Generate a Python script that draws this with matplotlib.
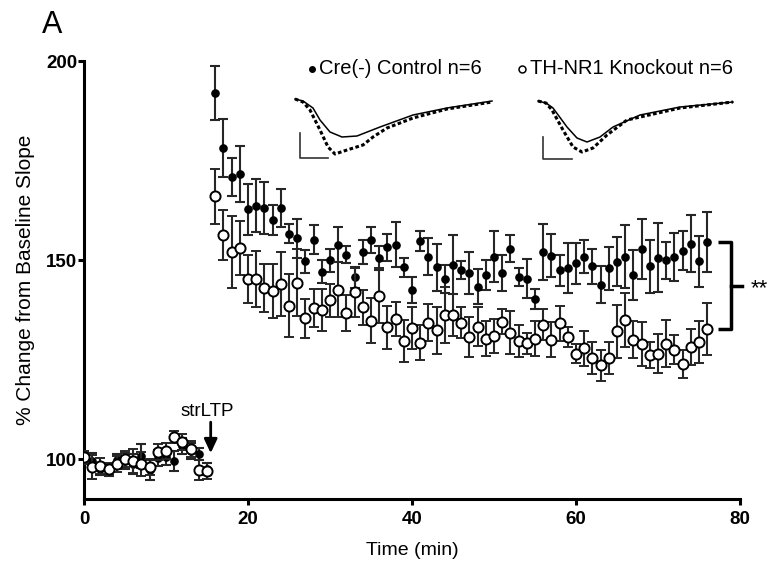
import matplotlib
matplotlib.use("Agg")
import matplotlib.pyplot as plt
import numpy as np

plt.rcParams['font.family'] = ['Liberation Sans', 'DejaVu Sans']

# baseline, one point per minute
base_time = np.arange(0, 16)
ctrl_base = [100.4, 99.6, 97.5, 97.2, 99.7, 99.6, 98.9, 100.8, 97.2, 100.4,
             100.6, 99.6, 103.4, 102.1, 101.4, 97.5]
ctrl_base_err = [1.5, 2.0, 1.5, 1.5, 1.5, 2.0, 2.5, 3.0, 2.5, 2.0,
                 2.0, 2.5, 2.0, 2.0, 1.5, 1.5]
ko_base = [100.6, 98.1, 98.3, 97.5, 98.9, 100.0, 99.6, 98.7, 98.1, 101.7,
           102.1, 105.5, 104.2, 102.5, 97.2, 97.0]
ko_base_err = [1.5, 3.0, 2.0, 1.5, 2.0, 2.0, 3.0, 3.0, 2.0, 2.0,
               2.0, 1.5, 2.0, 2.0, 2.5, 2.0]

# after strLTP
post_time = np.arange(16, 77)
ctrl_post = [191.9, 178.2, 170.9, 171.7, 162.8, 163.7, 163.1, 160.0, 163.1, 156.6,
             155.5, 149.7, 155.1, 147.1, 149.9, 153.9, 151.4, 145.7, 152.0, 155.1,
             150.6, 153.2, 153.9, 148.2, 142.5, 154.7, 150.9, 148.2, 145.3, 148.8,
             147.5, 146.8, 143.3, 146.3, 150.9, 146.8, 152.8, 145.8, 145.3, 140.2,
             152.0, 151.1, 147.4, 148.0, 149.2, 150.9, 148.5, 143.8, 147.9, 149.6,
             150.9, 146.3, 152.8, 148.4, 150.6, 149.9, 150.7, 152.4, 154.1, 149.7,
             154.5]
ctrl_post_err = [6.8, 7.3, 4.8, 7.0, 6.4, 6.6, 6.6, 3.8, 4.7, 2.4,
                 4.9, 2.9, 3.6, 2.8, 2.9, 4.4, 2.2, 2.6, 3.1, 3.2,
                 3.0, 3.4, 5.7, 2.4, 3.2, 2.5, 4.7, 5.9, 3.5, 7.4,
                 2.3, 5.3, 4.4, 3.8, 6.4, 4.6, 3.4, 2.2, 4.9, 2.5,
                 7.0, 5.4, 3.8, 6.2, 5.1, 4.2, 4.4, 4.6, 5.5, 6.2,
                 7.8, 6.2, 7.5, 6.7, 8.7, 4.7, 6.0, 4.9, 7.2, 6.4,
                 7.6]
ko_post = [166.0, 156.3, 152.1, 153.0, 145.3, 145.3, 143.0, 142.3, 144.0, 138.5,
           144.3, 135.4, 138.0, 137.5, 139.9, 142.6, 136.7, 141.9, 138.1, 134.8,
           141.1, 133.1, 135.3, 129.7, 132.9, 129.3, 134.3, 132.4, 136.2, 136.2,
           134.3, 130.7, 133.3, 130.2, 131.0, 134.5, 131.8, 129.7, 129.1, 130.3,
           133.8, 130.0, 134.1, 130.6, 126.5, 127.8, 125.5, 123.6, 125.5, 132.1,
           135.0, 130.0, 128.9, 126.2, 126.5, 129.0, 127.5, 123.9, 128.2, 129.5,
           132.7]
ko_post_err = [7.0, 6.3, 9.0, 6.7, 6.0, 7.0, 6.0, 6.8, 8.0, 7.9,
               8.4, 4.9, 4.7, 5.2, 4.2, 7.0, 4.6, 6.2, 4.4, 5.6,
               7.0, 5.4, 4.3, 5.2, 5.3, 4.3, 4.7, 5.9, 7.0, 5.3,
               3.9, 5.1, 4.9, 4.4, 4.3, 3.1, 5.5, 4.0, 2.6, 4.4,
               3.9, 4.4, 4.4, 2.5, 2.4, 4.5, 4.0, 3.9, 4.0, 6.7,
               6.8, 4.6, 5.5, 3.3, 4.9, 5.9, 3.6, 3.6, 4.5, 5.3,
               6.6]

# example traces (figure pixels, y downwards)
left_solid_x = [295, 303, 313, 320, 330, 342, 357, 380, 413, 447, 492]
left_solid_y = [99, 101, 108, 120, 132, 137, 136, 127, 115, 108, 101]
left_dash_x = [295, 303, 310, 320, 328, 335, 347, 363, 373, 387, 413, 447, 492]
left_dash_y = [99, 102, 110, 130, 147, 154, 150, 145, 137, 128, 118, 109, 102]
right_solid_x = [538, 546, 553, 567, 577, 587, 600, 613, 640, 680, 733]
right_solid_y = [101, 103, 108, 127, 138, 142, 137, 127, 115, 107, 102]
right_dash_x = [538, 546, 552, 563, 573, 582, 593, 607, 627, 680, 733]
right_dash_y = [101, 103, 110, 130, 147, 152, 148, 135, 120, 108, 102]

W, H = 776, 564
fig = plt.figure(figsize=(W / 100, H / 100), dpi=100)
ax = fig.add_axes([84 / W, 1 - 499 / H, 656 / W, 438 / H])

ebar = dict(ecolor='#262626', elinewidth=1.5, capsize=3.3, capthick=1.5,
            linestyle='none')

for t, y, e in [(base_time, ctrl_base, ctrl_base_err), (post_time, ctrl_post, ctrl_post_err)]:
    ax.errorbar(t, y, yerr=e, marker='o', ms=5.2, mfc='black', mec='black',
                zorder=3, **ebar)
for t, y, e in [(base_time, ko_base, ko_base_err), (post_time, ko_post, ko_post_err)]:
    ax.errorbar(t, y, yerr=e, marker='o', ms=7.3, mfc='white', mec='black',
                mew=1.4, zorder=4, **ebar)

ax.set_xlim(0, 80)
ax.set_ylim(90, 200)
ax.set_xticks([0, 20, 40, 60, 80])
ax.set_yticks([100, 150, 200])
for s in ['top', 'right']:
    ax.spines[s].set_visible(False)
for s in ['left', 'bottom']:
    ax.spines[s].set_linewidth(2.2)
ax.tick_params(axis='both', length=4, width=2.2, labelsize=13.5)
ax.tick_params(axis='y', pad=1)
ax.tick_params(axis='x', pad=5)
for lab in ax.get_xticklabels() + ax.get_yticklabels():
    lab.set_fontweight('bold')
ax.set_xlabel('Time (min)', fontsize=14, labelpad=10)
ax.set_ylabel('% Change from Baseline Slope', fontsize=15, labelpad=8)

# strLTP marker
ax.text(15.0, 110.9, 'strLTP', fontsize=13.5, ha='center', va='baseline')
ax.annotate('', xy=(15.45, 101.5), xytext=(15.45, 109.3),
            arrowprops=dict(arrowstyle='-|>,head_length=0.6,head_width=0.28',
                            lw=2, color='black', mutation_scale=14,
                            shrinkA=0, shrinkB=0))

# significance bracket
top, bot = ctrl_post[-1], ko_post[-1]
mid = (top + bot) / 2
ax.plot([77.3, 78.9, 78.9, 77.3], [top, top, bot, bot], color='black', lw=2.5,
        solid_joinstyle='round', solid_capstyle='butt', clip_on=False)
ax.plot([78.9, 80.3], [mid, mid], color='black', lw=2.5, clip_on=False)
ax.text(81.3, mid - 0.8, '**', fontsize=16, ha='left', va='center')

# overlay in figure pixels for legend and traces
ov = fig.add_axes([0, 0, 1, 1])
ov.set_xlim(0, W)
ov.set_ylim(H, 0)
ov.axis('off')

ov.plot(left_solid_x, left_solid_y, color='black', lw=1.1)
ov.plot(left_dash_x, left_dash_y, color='black', lw=2.2, ls=(0, (1.2, 0.8)))
ov.plot(right_solid_x, right_solid_y, color='black', lw=1.1)
ov.plot(right_dash_x, right_dash_y, color='black', lw=2.2, ls=(0, (1.2, 0.8)))
ov.plot([300, 300, 328], [133, 158, 158], color='#333333', lw=1.2)
ov.plot([543, 543, 572], [137, 159, 159], color='#333333', lw=1.2)

ov.plot([311.5], [69], marker='o', ms=4, mfc='black', mec='black')
ov.text(319, 69, 'Cre(-) Control n=6', fontsize=14.5, va='center', ha='left')
ov.plot([522], [69], marker='o', ms=5, mfc='white', mec='black', mew=1.1)
ov.text(530, 69, 'TH-NR1 Knockout n=6', fontsize=14.5, va='center', ha='left')

fig.text(42 / W, 1 - 33 / H, 'A', fontsize=22, va='baseline', ha='left')

fig.savefig('out.png', dpi=100)
